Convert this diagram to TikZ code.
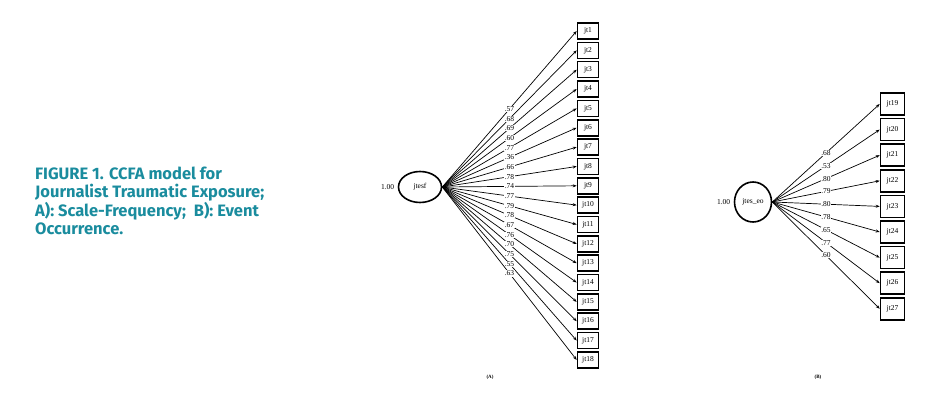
\documentclass[tikz,border=0pt]{standalone}
\usepackage{fontspec}
\setmainfont{Liberation Serif}
\newfontfamily\capfont{Fira Sans}
\usetikzlibrary{shapes.geometric,arrows.meta}
\definecolor{capteal}{HTML}{1A8C9E}
\tikzset{
  obs/.style={draw,line width=1.6pt,inner sep=0pt,font=\fontsize{7.5}{8}\selectfont},
  obsA/.style={obs,minimum width=21pt,minimum height=16pt},
  obsB/.style={obs,minimum width=24pt,minimum height=22pt},
  lat/.style={draw,ellipse,line width=1.6pt,inner sep=0pt,font=\fontsize{7.5}{8}\selectfont},
  path/.style={line width=0.7pt,-{Stealth[length=4pt,width=3pt]}},
  ld/.style={pos=0.5,fill=white,inner sep=0.5pt,font=\fontsize{7.5}{8}\selectfont},
  small/.style={font=\fontsize{7.5}{8}\selectfont}
}
\begin{document}
\begin{tikzpicture}[x=1pt,y=-1pt]
\useasboundingbox (0,0) rectangle (945,401);
% caption
\node[anchor=base west,align=left,inner sep=0pt,text=capteal,
      font=\capfont\bfseries\fontsize{16.5}{17.8}\selectfont] (cap) at (35,234)
  {FIGURE 1. CCFA model for\\Journalist Traumatic Exposure;\\A): Scale-Frequency;\ \ B): Event\\Occurrence.};
% model A
\node[lat,minimum width=43pt,minimum height=31pt] (fA) at (420,187) {jtesf};
\node[small,anchor=east] (vA) at (fA.west) {1.00};
\coordinate (oA) at (fA.east);
\foreach \i/\l in {1/.57,2/.68,3/.69,4/.60,5/.77,6/.36,7/.66,8/.78,9/.74,10/.77,11/.79,12/.78,13/.67,14/.76,15/.70,16/.75,17/.55,18/.63}{
  \node[obsA] (a\i) at (588,{31+19.35*(\i-1)}) {jt\i};
  \draw[path] (oA) -- node[ld] {\l} (a\i.west);
}
\node[font=\fontsize{5}{6}\selectfont\bfseries] (capA) at (490,377) {(A)};
% model B
\node[lat,minimum width=37pt,minimum height=40pt] (fB) at (753,202) {jtes\_eo};
\node[small,anchor=east] (vB) at (fB.west) {1.00};
\coordinate (oB) at (fB.east);
\foreach \i/\n/\l in {1/19/.68,2/20/.53,3/21/.80,4/22/.79,5/23/.80,6/24/.78,7/25/.65,8/26/.77,9/27/.60}{
  \node[obsB] (b\i) at (892.5,{104+25.6*(\i-1)}) {jt\n};
  \draw[path] (oB) -- node[ld] {\l} (b\i.west);
}
\node[font=\fontsize{5}{6}\selectfont\bfseries] (capB) at (818,377) {(B)};
\end{tikzpicture}
\end{document}
